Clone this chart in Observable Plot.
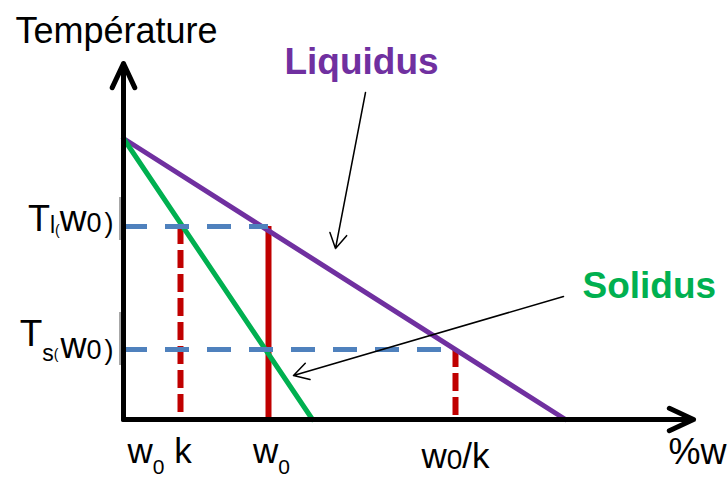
<!DOCTYPE html>
<html><head><meta charset="utf-8">
<script src="https://cdn.jsdelivr.net/npm/d3@7"></script>
<script src="https://cdn.jsdelivr.net/npm/@observablehq/plot@0.6"></script>
<style>body{margin:0;background:#fff} svg{display:block}</style>
</head><body><div id="chart"></div>
<script>
// ---- schematic values (arbitrary units) ----
const axisMax = [570, 356];            // x (%w) and y (temperature) axis lengths
const meltT = [281];                   // temperature where both lines start (pure solvent)
const lineEnds = [442, 189];           // composition where liquidus / solidus reach the bottom
const compKeys = ["w0k", "w0", "w0/k"];
const compValues = [57, 145, 332];     // w0·k, w0, w0/k
const tempKeys = ["Tl", "Ts"];
const tempValues = [193, 70];          // Tl(w0), Ts(w0)
const liquidusArrow = [242, 327, 212, 171];
const solidusArrow = [440, 123, 170, 44];
const brackets = [[222, 179], [107, 54]];

// rich-text pieces: [text, fontSize, baseline offset, dx]
const richLabels = {
  "Tl": [["T",36,0],["l",23,2],["(",14,4],["w",37,0],["0",27,1],[")",27,1,3]],
  "Ts": [["T",37,0],["s",23,15],["(",14,13],["w",36,12,2],["0",27,13],[")",27,13,3]],
  "w0k": [["w",35,0],["0",21,11],[" k",35,0]],
  "w0": [["w",35,0],["0",21,11]],
  "w0/k": [["w",35,0],["0",28,1],["/k",35,0]],
  "Température": [["Température",36,0]],
  "%w": [["%w",36,0]],
  "Liquidus": [["Liquidus",37,0]],
  "Solidus": [["Solidus",37,0]]
};

const purple = "#7030A0", green = "#00B050", blue = "#4F81BD", red = "#C00000";

const axesRows = [
  {x1: 0, y1: 0, x2: 0, y2: axisMax[1]},
  {x1: 0, y1: 0, x2: axisMax[0], y2: 0}
];
const liquidus = [{x: 0, y: meltT[0]}, {x: lineEnds[0], y: 0}];
const solidus = [{x: 0, y: meltT[0]}, {x: lineEnds[1], y: 0}];
const tempRows = [
  {T: tempValues[0], xEnd: compValues[1]},
  {T: tempValues[1], xEnd: compValues[2]}
];
const dashedRed = [
  {x: compValues[0], T: tempValues[0]},
  {x: compValues[2], T: tempValues[1]}
];
const solidRed = [{x: compValues[1], T: tempValues[0]}];
const annot = [liquidusArrow, solidusArrow].map(([x1,y1,x2,y2]) => ({x1,y1,x2,y2}));
const bracketRows = brackets.map(([a,b]) => ({y1: a, y2: b}));

const labels = [
  {key:"Température", x:0, y:axisMax[1], anchor:"middle", dx:-7, dy:-21, color:"#000", weight:"normal"},
  {key:"Liquidus", x:liquidusArrow[0], y:liquidusArrow[1], anchor:"middle", dx:-4, dy:-19, color:purple, weight:"bold"},
  {key:"Solidus", x:solidusArrow[0], y:solidusArrow[1], anchor:"start", dx:19, dy:1, color:green, weight:"bold"},
  {key:"Tl", x:0, y:tempValues[0], anchor:"end", dx:-10, dy:4, color:"#000", weight:"normal"},
  {key:"Ts", x:0, y:tempValues[1], anchor:"end", dx:-10, dy:-4, color:"#000", weight:"normal"},
  {key:"w0k", x:0, y:0, anchor:"start", dx:4, dy:43, color:"#000", weight:"normal"},
  {key:"w0", x:compValues[1], y:0, anchor:"middle", dx:3, dy:43, color:"#000", weight:"normal"},
  {key:"w0/k", x:compValues[2], y:0, anchor:"middle", dx:0, dy:48, color:"#000", weight:"normal"},
  {key:"%w", x:axisMax[0], y:0, anchor:"end", dx:33, dy:44, color:"#000", weight:"normal"}
];

const plot = Plot.plot({
  width: 727,
  height: 478,
  style: {fontFamily: "'Liberation Sans', Arial, sans-serif", background: "#fff"},
  x: {domain: [0, axisMax[0]], range: [123, 693], axis: null},
  y: {domain: [0, axisMax[1]], range: [419, 63], axis: null},
  marks: [
    Plot.ruleX(bracketRows, {x: () => 0, y1: "y1", y2: "y2", stroke: "#8a8a8a", strokeWidth: 1.5, dx: -3.5}),
    Plot.ruleX(dashedRed, {x: "x", y1: "T", y2: () => 0, stroke: red, strokeWidth: 6, strokeDasharray: "18,6"}),
    Plot.ruleX(solidRed, {x: "x", y1: "T", y2: () => 0, stroke: red, strokeWidth: 6}),
    Plot.line(liquidus, {x: "x", y: "y", stroke: purple, strokeWidth: 5}),
    Plot.line(solidus, {x: "x", y: "y", stroke: green, strokeWidth: 5}),
    Plot.ruleY(tempRows, {y: "T", x1: () => 0, x2: "xEnd", stroke: blue, strokeWidth: 5, strokeDasharray: "24,18"}),
    Plot.arrow(annot, {x1: "x1", y1: "y1", x2: "x2", y2: "y2", stroke: "#000", strokeWidth: 1.5, headLength: 17, headAngle: 60}),
    Plot.arrow(axesRows, {x1: "x1", y1: "y1", x2: "x2", y2: "y2", stroke: "#000", strokeWidth: 5, headLength: 8, headAngle: 50, strokeLinecap: "round", strokeLinejoin: "round"}),
    ...labels.map(l => Plot.text([l], {
      x: "x", y: "y", text: "key", textAnchor: l.anchor, dx: l.dx, dy: l.dy,
      lineAnchor: "bottom", fill: l.color, fontWeight: l.weight, fontSize: 36, className: "rich"
    }))
  ]
});

plot.querySelectorAll("text").forEach(t => {
  const pieces = richLabels[t.textContent];
  if (!pieces) return;
  t.removeAttribute("y");
  t.textContent = "";
  let prev = 0;
  pieces.forEach(([s, size, off, dx]) => {
    const ts = document.createElementNS("http://www.w3.org/2000/svg", "tspan");
    ts.setAttribute("font-size", size);
    if (off - prev) ts.setAttribute("dy", off - prev);
    if (dx) ts.setAttribute("dx", dx);
    ts.textContent = s;
    t.appendChild(ts);
    prev = off;
  });
});

document.getElementById("chart").appendChild(plot);
</script>
</body></html>
